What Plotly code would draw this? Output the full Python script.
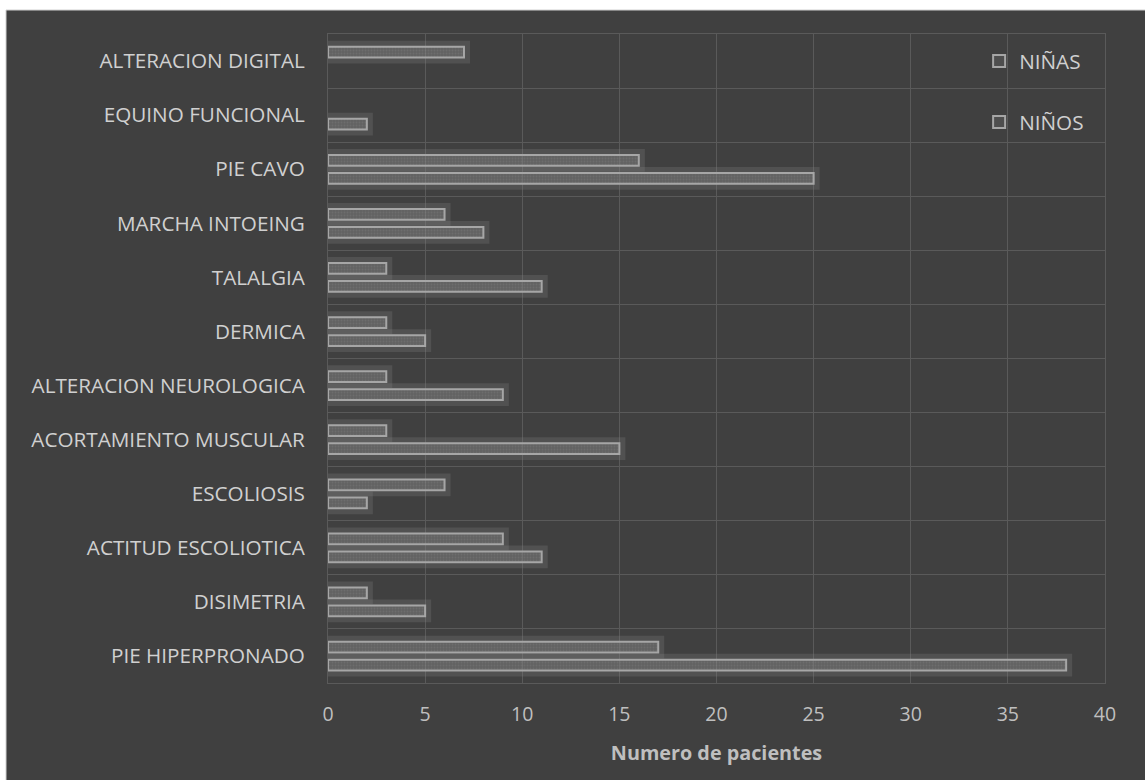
import plotly.graph_objects as go

# Categories listed bottom-to-top along the y axis
categorias = [
    "PIE HIPERPRONADO",
    "DISIMETRIA",
    "ACTITUD ESCOLIOTICA",
    "ESCOLIOSIS",
    "ACORTAMIENTO MUSCULAR",
    "ALTERACION NEUROLOGICA",
    "DERMICA",
    "TALALGIA",
    "MARCHA INTOEING",
    "PIE CAVO",
    "EQUINO FUNCIONAL",
    "ALTERACION DIGITAL",
]
ninas = [17, 2, 9, 6, 3, 3, 3, 3, 6, 16, None, 7]
ninos = [38, 5, 11, 2, 15, 9, 5, 11, 8, 25, 2, None]
x_ticks = [0, 5, 10, 15, 20, 25, 30, 35, 40]

FONT = "Open Sans"
BG = "#404040"
GRID = "#5a5a5a"
OUTLINE = "#a6a6a6"
TEXT = "#d0d0d0"

BAR_W = 0.2
series = [
    ("NIÑAS", ninas, 0.065),
    ("NIÑOS", ninos, -0.268),
]

fig = go.Figure()

# soft grainy glow underneath each bar
for name, vals, off in series:
    fig.add_trace(go.Bar(
        y=categorias, x=vals, orientation="h",
        width=BAR_W, offset=off,
        marker=dict(
            color="rgba(130,130,130,0.22)",
            line=dict(color="rgba(130,130,130,0.26)", width=12),
            pattern=dict(shape=".", fgcolor="rgba(160,160,160,0.45)",
                         size=3, solidity=0.35),
        ),
        showlegend=False, hoverinfo="skip",
    ))

# outlined bars
for name, vals, off in series:
    fig.add_trace(go.Bar(
        y=categorias, x=vals, orientation="h", name=name,
        width=BAR_W, offset=off,
        marker=dict(color="rgba(120,120,120,0.25)",
                    line=dict(color=OUTLINE, width=2)),
        legendgroup=name,
    ))

fig.update_layout(
    width=1145, height=780,
    barmode="overlay",
    paper_bgcolor="#ffffff",
    plot_bgcolor="rgba(0,0,0,0)",
    margin=dict(l=328, r=40, t=34, b=97),
    font=dict(family=FONT, color=TEXT, size=20.7),
    legend=dict(
        x=0.838, y=0.989, xanchor="left", yanchor="top",
        bgcolor="rgba(0,0,0,0)", tracegroupgap=31,
        font=dict(family=FONT, size=20.7, color=TEXT),
        traceorder="grouped",
    ),
    shapes=[dict(
        type="rect", xref="paper", yref="paper", layer="below",
        x0=(6 - 328) / 777, x1=(1146 - 328) / 777,
        y0=(683 - 781) / 649, y1=(683 - 10) / 649,
        fillcolor=BG, line=dict(color="#d0d0d0", width=1),
    )],
)

fig.update_xaxes(
    range=[0, 40], tickvals=x_ticks,
    showgrid=True, gridcolor=GRID, gridwidth=1,
    zeroline=False, showline=True, mirror=True, linecolor=GRID, linewidth=1,
    ticks="", ticklabelstandoff=14,
    tickfont=dict(family=FONT, size=19.5, color="#bfbfbf"),
    title=dict(text="<b>Numero de pacientes</b>", standoff=19,
               font=dict(family=FONT, size=19.8, color="#bfbfbf")),
)
fig.update_yaxes(
    categoryorder="array", categoryarray=categorias,
    tickson="boundaries", showgrid=True, gridcolor=GRID, gridwidth=1,
    zeroline=False, showline=True, mirror=True, linecolor=GRID, linewidth=1,
    ticks="", ticklabelstandoff=18,
    tickfont=dict(family=FONT, size=20.7, color=TEXT),
)

fig.write_html("out.html")
